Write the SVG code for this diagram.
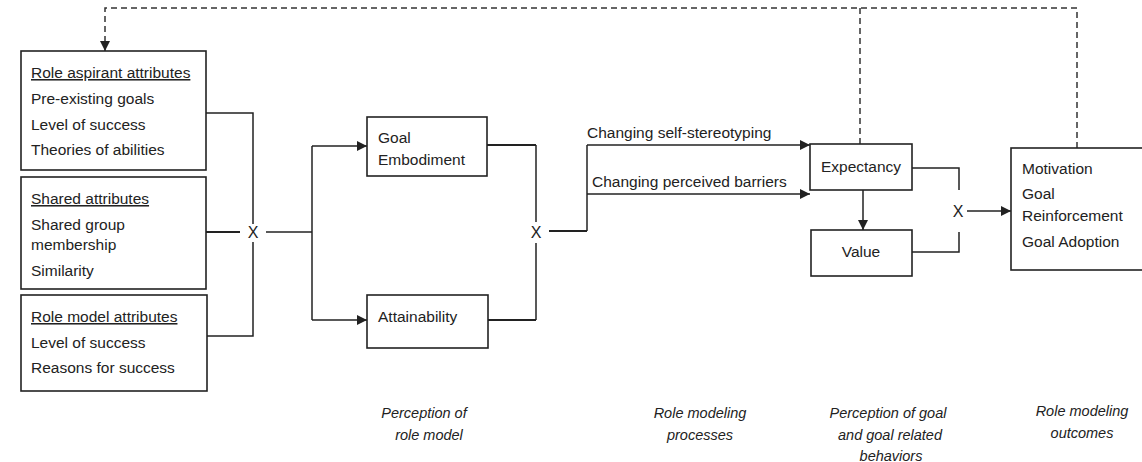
<svg xmlns="http://www.w3.org/2000/svg" width="1142" height="462" viewBox="0 0 1142 462">
<defs>
<marker id="arr" viewBox="0 0 10 10" refX="10" refY="5" markerWidth="10" markerHeight="10" markerUnits="userSpaceOnUse" orient="auto">
<path d="M0,0 L10,5 L0,10 Z" fill="#222"/>
</marker>
<style>
.box{fill:#fff;stroke:#222;stroke-width:1.6}
.t{font-family:"Liberation Sans",Arial,sans-serif;font-size:15.5px;fill:#222}
.u{text-decoration:underline}
.c{text-anchor:middle}
.x{font-family:"Liberation Sans",Arial,sans-serif;font-size:16px;fill:#222;text-anchor:middle}
.i{font-family:"Liberation Sans",Arial,sans-serif;font-size:14.5px;font-style:italic;fill:#222;text-anchor:middle}
.ln{fill:none;stroke:#222;stroke-width:1.5}
.thick{fill:none;stroke:#222;stroke-width:2.2}
.dash{fill:none;stroke:#333;stroke-width:1.5;stroke-dasharray:6 4}
</style>
</defs>
<rect width="1142" height="462" fill="#fff"/>

<g id="connectors">
<path class="dash" d="M1077,148 V8 H105 V51" marker-end="url(#arr)"/>
<path class="dash" d="M860,144 V8"/>
<path class="ln" d="M206,113 H253 V224"/>
<path class="thick" d="M206,232 H240"/>
<path class="ln" d="M207,336 H253 V242"/>
<path class="ln" d="M266,232 H312"/>
<path class="ln" d="M312,146 V320"/>
<path class="ln" d="M312,146 H367" marker-end="url(#arr)"/>
<path class="ln" d="M312,320 H367" marker-end="url(#arr)"/>
<path class="thick" d="M487,145 H536"/>
<path class="ln" d="M536,145 V222"/>
<path class="thick" d="M488,320 H536"/>
<path class="ln" d="M536,320 V243"/>
<path class="thick" d="M549,231 H587"/>
<path class="ln" d="M587,231 V145"/>
<path class="ln" d="M587,145 H810" marker-end="url(#arr)"/>
<path class="ln" d="M587,194 H810" marker-end="url(#arr)"/>
<path class="ln" d="M863,190 V230" marker-end="url(#arr)"/>
<path class="ln" d="M912,168 H959 V190"/>
<path class="ln" d="M912,252 H959 V232"/>
<path class="ln" d="M967,211 H1011" marker-end="url(#arr)"/>
<text class="x" x="253" y="238">X</text>
<text class="x" x="536" y="238">X</text>
<text class="x" x="958" y="217">X</text>
<text class="t" x="587" y="138">Changing self-stereotyping</text>
<text class="t" x="592" y="187">Changing perceived barriers</text>
</g>

<g id="role-aspirant">
<rect class="box" x="21" y="51" width="185" height="119"/>
<text class="t u" x="31" y="78">Role aspirant attributes</text>
<text class="t" x="31" y="104">Pre-existing goals</text>
<text class="t" x="31" y="130">Level of success</text>
<text class="t" x="31" y="155">Theories of abilities</text>
</g>

<g id="shared">
<rect class="box" x="21" y="177" width="185" height="112"/>
<text class="t u" x="31" y="204">Shared attributes</text>
<text class="t" x="31" y="230">Shared group</text>
<text class="t" x="31" y="250">membership</text>
<text class="t" x="31" y="276">Similarity</text>
</g>

<g id="role-model">
<rect class="box" x="21" y="295" width="186" height="96"/>
<text class="t u" x="31" y="322">Role model attributes</text>
<text class="t" x="31" y="348">Level of success</text>
<text class="t" x="31" y="373">Reasons for success</text>
</g>

<g id="goal-embodiment">
<rect class="box" x="367" y="117" width="120" height="59"/>
<text class="t" x="378" y="143">Goal</text>
<text class="t" x="378" y="165">Embodiment</text>
</g>

<g id="attainability">
<rect class="box" x="367" y="295" width="121" height="53"/>
<text class="t" x="378" y="322">Attainability</text>
</g>

<g id="expectancy">
<rect class="box" x="810" y="144" width="102" height="46"/>
<text class="t c" x="861" y="172">Expectancy</text>
</g>

<g id="value">
<rect class="box" x="811" y="230" width="101" height="46"/>
<text class="t c" x="861" y="257">Value</text>
</g>

<g id="outcomes">
<rect class="box" x="1011" y="148" width="140" height="122"/>
<text class="t" x="1022" y="174">Motivation</text>
<text class="t" x="1022" y="199">Goal</text>
<text class="t" x="1022" y="221">Reinforcement</text>
<text class="t" x="1022" y="247">Goal Adoption</text>
</g>

<g id="stage-labels">
<text class="i" x="424" y="418">Perception of</text>
<text class="i" x="429" y="440">role model</text>
<text class="i" x="700" y="418">Role modeling</text>
<text class="i" x="700" y="440">processes</text>
<text class="i" x="888" y="418">Perception of goal</text>
<text class="i" x="890" y="440">and goal related</text>
<text class="i" x="891" y="461">behaviors</text>
<text class="i" x="1082" y="416">Role modeling</text>
<text class="i" x="1082" y="438">outcomes</text>
</g>
</svg>
